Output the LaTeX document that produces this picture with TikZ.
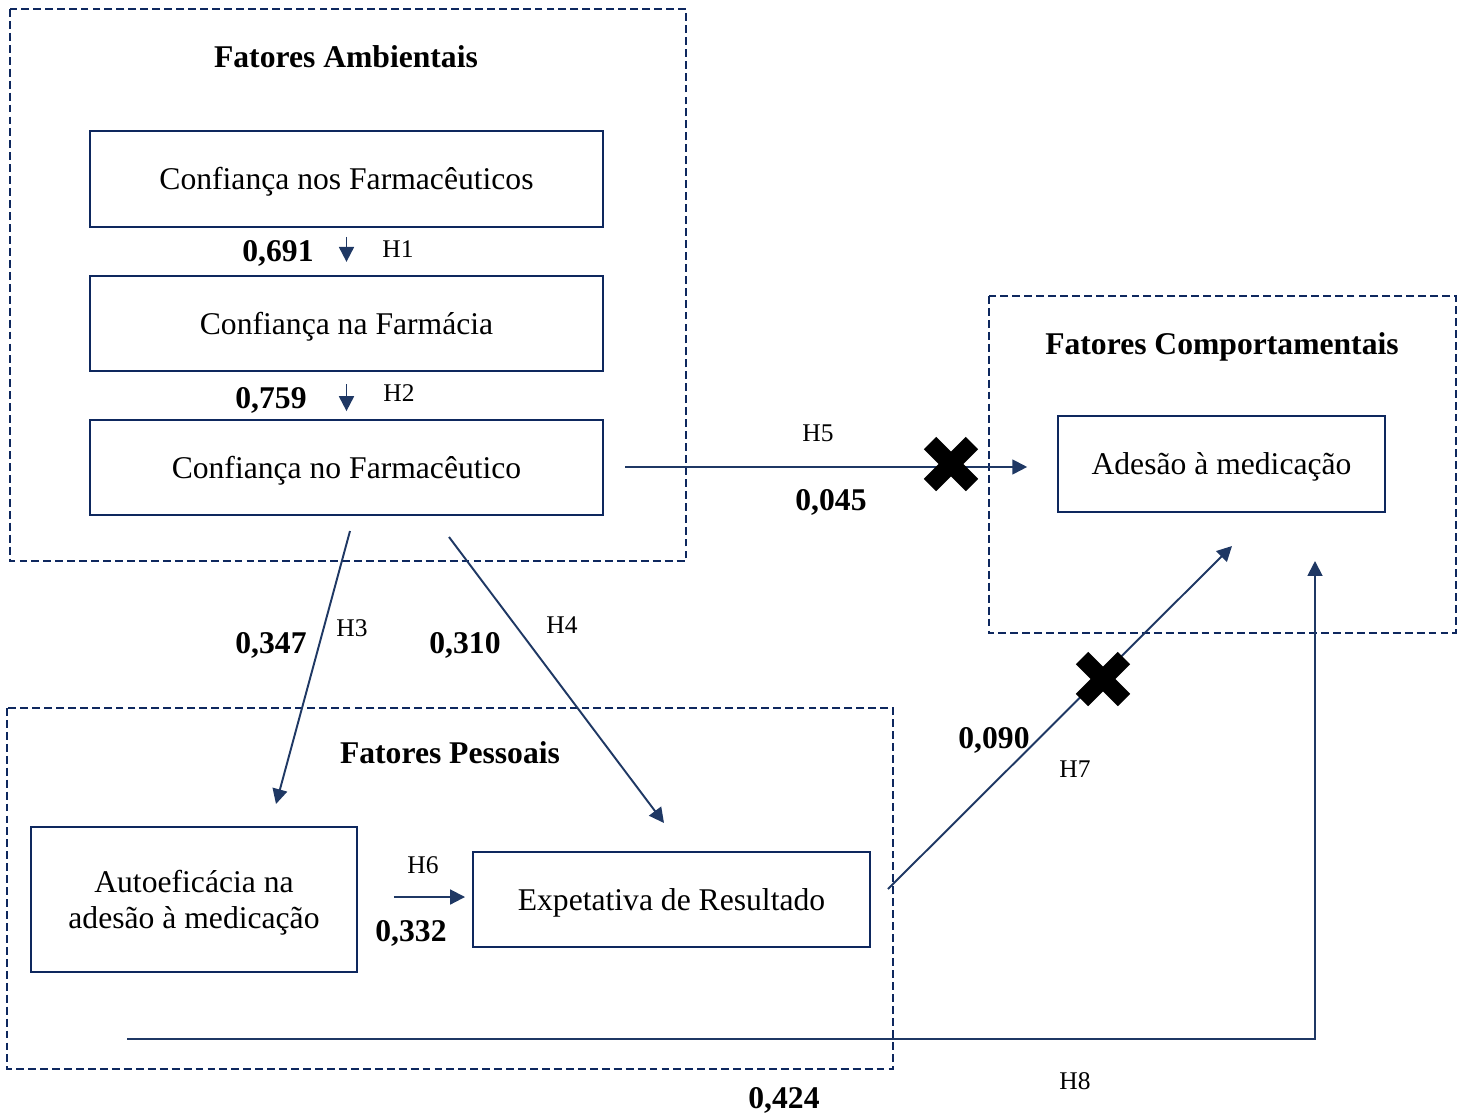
\documentclass[tikz,border=0pt]{standalone}
\usepackage{fontspec}
\setmainfont{Liberation Serif}
\usetikzlibrary{arrows.meta}
\definecolor{navy}{RGB}{31,56,100}
\definecolor{boxnavy}{RGB}{14,40,94}
\begin{document}
\begin{tikzpicture}[x=0.02cm,y=-0.02cm,
  every node/.style={font=\fontsize{18}{21.5}\selectfont},
  box/.style={draw=boxnavy, line width=1.1pt, inner sep=0pt, align=center},
  onerow/.style={text height=15pt, text depth=2.5pt},
  grp/.style={draw=boxnavy, line width=1.1pt, dash pattern=on 4.5pt off 2.3pt},
  title/.style={font=\fontsize{18}{21.5}\selectfont\bfseries},
  coef/.style={font=\fontsize{18}{21.5}\selectfont\bfseries},
  hyp/.style={font=\fontsize{14.5}{17}\selectfont},
  arr/.style={draw=navy, line width=1.1pt, -{Triangle[length=8.5pt,width=8.5pt]}},
  cross/.style={line width=10pt, black, line cap=butt}]
\useasboundingbox (0,0) rectangle (1465,1117);

% group frames
\draw[grp] (10,9) rectangle (686,561);
\draw[grp] (989,296) rectangle (1456,633);
\draw[grp] (7,708) rectangle (893,1069);

\node[title] (tamb) at (346,57) {Fatores Ambientais};
\node[title] (tcom) at (1222,347) {Fatores Comportamentais};
\node[title] (tpes) at (450,753) {Fatores Pessoais};

% constructs
\node[box, onerow, minimum width=10.26cm, minimum height=1.92cm] (b1) at (346.5,179) {Confiança nos Farmacêuticos};
\node[box, onerow, minimum width=10.26cm, minimum height=1.9cm] (b2) at (346.5,323.5) {Confiança na Farmácia};
\node[box, onerow, minimum width=10.26cm, minimum height=1.9cm] (b3) at (346.5,467.5) {Confiança no Farmacêutico};
\node[box, onerow, minimum width=6.54cm, minimum height=1.92cm] (ad) at (1221.5,464) {Adesão à medicação};
\node[box, minimum width=6.52cm, minimum height=2.9cm] (au) at (194,899.5)
  {\raisebox{-2pt}[\height][\depth]{\begin{tabular}{@{}c@{}}Autoeficácia na\\[-1pt]adesão à medicação\end{tabular}}};
\node[box, onerow, minimum width=7.94cm, minimum height=1.9cm] (ex) at (671.5,899.5) {Expetativa de Resultado};

% free ends of the paths
\coordinate (h3s) at (350,531);
\coordinate (h3e) at (276,804);
\coordinate (h4s) at (449,537);
\coordinate (h4e) at (664,823);
\coordinate (h7s) at (888,889);
\coordinate (h7e) at (1232,546);
\coordinate (h8s) at (127,1039);
\coordinate (h8e) at (1315,561);
\coordinate (x5) at (951,464);
\coordinate (x7) at (1103,679);

% paths
\draw[arr, shorten <=5pt, shorten >=7.5pt] (b1.south) -- (b2.north);
\draw[arr, shorten <=7pt, shorten >=4.5pt] (b2.south) -- (b3.north);
\draw[arr, shorten <=12pt, shorten >=17pt] ([yshift=0.3pt]b3.east) -- ([yshift=0.3pt]b3.east -| ad.west);
\draw[arr] (h3s) -- (h3e);
\draw[arr] (h4s) -- (h4e);
\draw[arr, shorten <=20.5pt, shorten >=4pt] (au.east |- 0,897) -- (ex.west |- 0,897);
\draw[arr] (h7s) -- (h7e);
\draw[arr] (h8s) -| (h8e);

% rejected paths
\draw[cross] (x5) ++(-21,-21) -- ++(42,42);
\draw[cross] (x5) ++(-21,21) -- ++(42,-42);
\draw[cross] (x7) ++(-21,-21) -- ++(42,42);
\draw[cross] (x7) ++(-21,21) -- ++(42,-42);

% coefficients and hypotheses
\node[coef] (c1) at (278,253) {0,691};
\node[hyp] (l1) at (398,249) {H1};
\node[coef] (c2) at (271,400) {0,759};
\node[hyp] (l2) at (399,393) {H2};
\node[coef] (c3) at (271,645) {0,347};
\node[hyp] (l3) at (352,628) {H3};
\node[coef] (c4) at (465,645) {0,310};
\node[hyp] (l4) at (562,625) {H4};
\node[hyp] (l5) at (818,433) {H5};
\node[coef] (c5) at (831,502) {0,045};
\node[hyp] (l6) at (423,865) {H6};
\node[coef] (c6) at (411,933) {0,332};
\node[coef] (c7) at (994,740) {0,090};
\node[hyp] (l7) at (1075,769) {H7};
\node[coef] (c8) at (784,1100) {0,424};
\node[hyp] (l8) at (1075,1081) {H8};
\end{tikzpicture}
\end{document}
